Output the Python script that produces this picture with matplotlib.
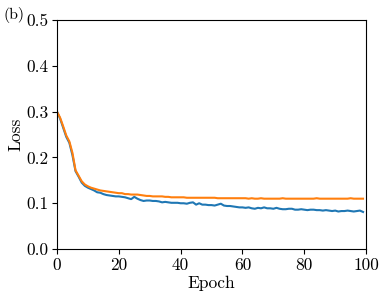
import matplotlib
matplotlib.use("Agg")
import matplotlib.pyplot as plt
import numpy as np

plt.rcParams['font.family'] = 'serif'
plt.rcParams['font.serif'] = ['cmr10']
plt.rcParams['mathtext.fontset'] = 'cm'
plt.rcParams['axes.formatter.use_mathtext'] = True
plt.rcParams['axes.unicode_minus'] = False

epochs = list(range(100))
train_loss = [
    0.300, 0.285, 0.265, 0.245, 0.232, 0.205, 0.170, 0.158, 0.145, 0.138,
    0.134, 0.131, 0.128, 0.124, 0.123, 0.120, 0.118, 0.117, 0.116, 0.115,
    0.115, 0.114, 0.113, 0.111, 0.109, 0.114, 0.110, 0.107, 0.105, 0.106,
    0.106, 0.105, 0.105, 0.104, 0.102, 0.103, 0.102, 0.101, 0.101, 0.101,
    0.100, 0.100, 0.099, 0.101, 0.102, 0.097, 0.100, 0.097, 0.097, 0.096,
    0.096, 0.095, 0.097, 0.099, 0.095, 0.094, 0.094, 0.093, 0.092, 0.091,
    0.091, 0.090, 0.091, 0.089, 0.088, 0.090, 0.089, 0.091, 0.089, 0.089,
    0.088, 0.090, 0.088, 0.087, 0.087, 0.088, 0.088, 0.086, 0.086, 0.087,
    0.086, 0.085, 0.086, 0.086, 0.085, 0.085, 0.084, 0.085, 0.084, 0.083,
    0.084, 0.082, 0.083, 0.083, 0.084, 0.083, 0.082, 0.083, 0.084, 0.081,
]
val_loss = [
    0.300, 0.287, 0.268, 0.248, 0.235, 0.210, 0.172, 0.160, 0.148, 0.141,
    0.137, 0.134, 0.132, 0.130, 0.128, 0.127, 0.126, 0.125, 0.124, 0.123,
    0.122, 0.122, 0.120, 0.120, 0.119, 0.119, 0.119, 0.118, 0.117, 0.116,
    0.116, 0.115, 0.115, 0.115, 0.115, 0.114, 0.114, 0.113, 0.113, 0.113,
    0.113, 0.113, 0.112, 0.112, 0.112, 0.112, 0.112, 0.112, 0.112, 0.112,
    0.112, 0.112, 0.111, 0.111, 0.111, 0.111, 0.111, 0.111, 0.111, 0.111,
    0.111, 0.111, 0.110, 0.111, 0.110, 0.110, 0.111, 0.110, 0.110, 0.110,
    0.110, 0.110, 0.110, 0.111, 0.110, 0.110, 0.110, 0.110, 0.110, 0.110,
    0.110, 0.110, 0.110, 0.110, 0.111, 0.110, 0.110, 0.110, 0.110, 0.110,
    0.110, 0.110, 0.110, 0.110, 0.110, 0.111, 0.110, 0.110, 0.110, 0.110,
]
xticks = [0, 20, 40, 60, 80, 100]
yticks = [0.0, 0.1, 0.2, 0.3, 0.4, 0.5]

fig = plt.figure(figsize=(3.85, 2.99), dpi=100)
ax = fig.add_axes([0.148, 0.167, 0.803, 0.766])
ax.plot(epochs, train_loss, color='#1f77b4', lw=1.5)
ax.plot(epochs, val_loss, color='#ff7f0e', lw=1.5)
ax.set_xlim(0, 100)
ax.set_ylim(0, 0.5)
ax.set_xticks(xticks)
ax.set_yticks(yticks)
ax.set_xticklabels([str(t) for t in xticks])
ax.set_yticklabels([f"{t:.1f}" for t in yticks])
ax.tick_params(labelsize=12.5, direction='out', length=3.5, pad=2.5,
               top=False, right=False)
ax.set_xlabel('Epoch', fontsize=12.5, labelpad=2)
ax.set_ylabel('Loss', fontsize=12.5, labelpad=2)
fig.text(0.010, 0.975, '(b)', fontsize=11.5, ha='left', va='top')
fig.savefig('out.png', dpi=100)
